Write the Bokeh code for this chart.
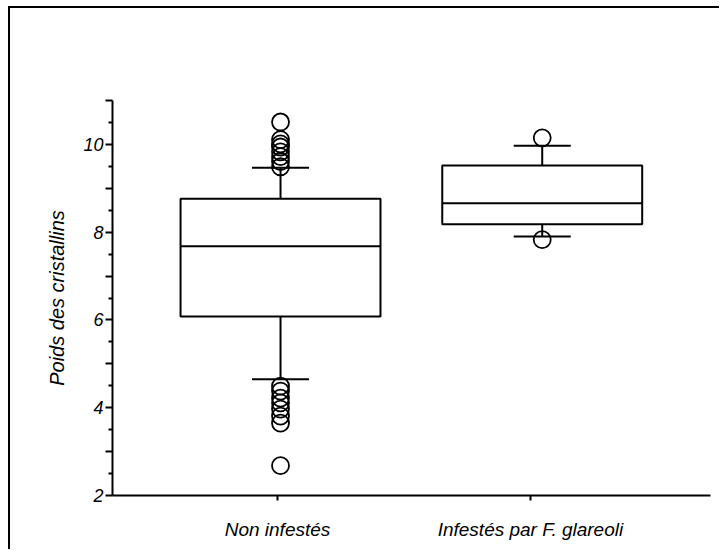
from bokeh.plotting import figure
from bokeh.models import FixedTicker, Range1d
from bokeh.embed import file_html
from bokeh.resources import INLINE

# ---- data ----
categories = ["Non infestés", "Infestés par F. glareoli"]
q1 = [6.08, 8.18]
median = [7.68, 8.66]
q3 = [8.76, 9.52]
whisker_low = [4.65, 7.90]
whisker_high = [9.47, 9.97]
outliers_non = [10.51, 10.11, 10.01, 9.94, 9.83, 9.72, 9.61, 9.49,
                4.49, 4.38, 4.22, 4.11, 3.97, 3.81, 3.65, 2.68]
outliers_inf = [10.15, 7.83]
y_ticks = [2, 3, 4, 5, 6, 7, 8, 9, 10, 11]
y_minor = [2.5, 3.5, 4.5, 5.5, 6.5, 7.5, 8.5, 9.5, 10.5]

FONT = "Liberation Sans"

p = figure(width=711, height=543, output_backend="svg", toolbar_location=None,
           x_range=Range1d(0.358, 2.643), y_range=Range1d(2, 11),
           min_border_left=102, min_border_top=92, min_border_right=11,
           min_border_bottom=56)
p.styles = {"border-left": "2px solid black", "border-top": "2px solid black",
            "margin-left": "8px", "margin-top": "6px"}
p.grid.visible = False
p.outline_line_color = None
p.background_fill_color = "white"
p.border_fill_color = "white"

xs = [i + 1 for i in range(len(categories))]
box_w = 0.764
cap_w = 0.218

# boxes
p.quad(left=[x - box_w / 2 for x in xs], right=[x + box_w / 2 for x in xs],
       bottom=q1, top=q3, fill_color="white", line_color="black", line_width=2)
# medians
p.segment(x0=[x - box_w / 2 for x in xs], x1=[x + box_w / 2 for x in xs],
          y0=median, y1=median, line_color="black", line_width=2)
# stems
p.segment(x0=xs, x1=xs, y0=q3, y1=whisker_high, line_color="black", line_width=2)
p.segment(x0=xs, x1=xs, y0=q1, y1=whisker_low, line_color="black", line_width=2)
# caps
p.segment(x0=[x - cap_w / 2 for x in xs], x1=[x + cap_w / 2 for x in xs],
          y0=whisker_high, y1=whisker_high, line_color="black", line_width=2)
p.segment(x0=[x - cap_w / 2 for x in xs], x1=[x + cap_w / 2 for x in xs],
          y0=whisker_low, y1=whisker_low, line_color="black", line_width=2)
# outliers
p.scatter(x=[xs[0]] * len(outliers_non), y=outliers_non, marker="circle", size=17,
          fill_color=None, line_color="black", line_width=1.8)
p.scatter(x=[xs[1]] * len(outliers_inf), y=outliers_inf, marker="circle", size=17,
          fill_color=None, line_color="black", line_width=1.8)

# y axis
ya = p.yaxis[0]
ya.ticker = FixedTicker(ticks=y_ticks, minor_ticks=y_minor)
ya.major_label_overrides = {t: (str(t) if t % 2 == 0 else "") for t in y_ticks}
ya.axis_label = "Poids des cristallins"
ya.axis_label_text_font = FONT
ya.axis_label_text_font_style = "italic"
ya.axis_label_text_font_size = "20px"
ya.axis_label_text_color = "black"
ya.axis_label_standoff = 12
ya.major_label_text_font = FONT
ya.major_label_text_font_style = "italic"
ya.major_label_text_font_size = "18px"
ya.major_label_text_color = "black"
ya.major_label_standoff = 2
ya.axis_line_width = 2
ya.major_tick_line_width = 2
ya.minor_tick_line_width = 2
ya.major_tick_out = 7
ya.major_tick_in = 0
ya.minor_tick_out = 4
ya.minor_tick_in = 0
ya.axis_line_color = "black"

# x axis
tick_pos = [0.9885, 1.955]
xa = p.xaxis[0]
xa.ticker = FixedTicker(ticks=tick_pos, minor_ticks=[])
xa.major_label_overrides = {t: c for t, c in zip(tick_pos, categories)}
xa.major_label_text_font = FONT
xa.major_label_text_font_style = "italic"
xa.major_label_text_font_size = "19px"
xa.major_label_text_color = "black"
xa.major_label_standoff = 18
xa.axis_line_width = 2
xa.major_tick_line_width = 2
xa.major_tick_out = 5
xa.major_tick_in = 0
xa.minor_tick_line_color = None
xa.axis_line_color = "black"

open("out.html", "w").write(file_html(p, INLINE))
